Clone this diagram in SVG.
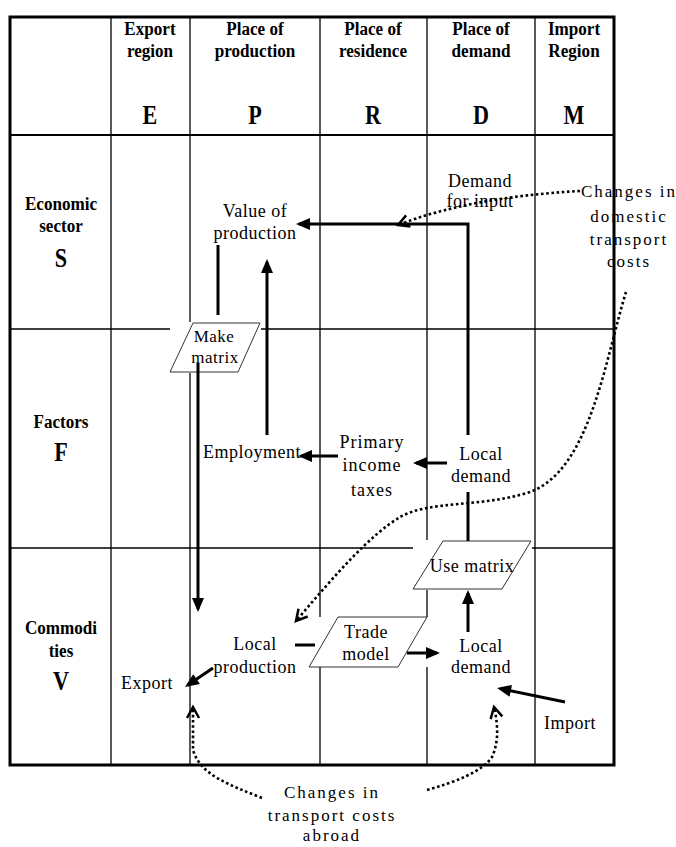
<svg xmlns="http://www.w3.org/2000/svg" width="676" height="847" viewBox="0 0 676 847">
<defs>
<style>
.grid{stroke:#000;stroke-width:1.3;fill:none}
.border{stroke:#000;stroke-width:3;fill:none}
.hd{font-family:"Liberation Serif","Times New Roman",serif;font-weight:bold;font-size:19px;text-anchor:middle;fill:#000}
.big{font-family:"Liberation Serif","Times New Roman",serif;font-weight:bold;font-size:27px;text-anchor:middle;fill:#000}
.tx{font-family:"Liberation Serif","Times New Roman",serif;font-size:18px;text-anchor:middle;fill:#000;letter-spacing:0.5px}
.sp{font-family:"Liberation Serif","Times New Roman",serif;font-size:17px;text-anchor:middle;fill:#000;letter-spacing:2px}
.para{fill:#fff;stroke:#333;stroke-width:1}
.mask{fill:#fff;stroke:none}
.arr{stroke:#000;stroke-width:3;fill:none}
.dot{stroke:#000;stroke-width:2.6;fill:none;stroke-dasharray:2.6 2.6}
</style>
<marker id="ah" markerUnits="userSpaceOnUse" markerWidth="16" markerHeight="14" refX="11" refY="6" orient="auto" overflow="visible">
<path d="M0,0 L14,6 L0,12 z" fill="#000"/>
</marker>
<marker id="oh" markerUnits="userSpaceOnUse" markerWidth="16" markerHeight="16" refX="11" refY="6" orient="auto" overflow="visible">
<path d="M0,0 L11,6 L0,12" fill="none" stroke="#000" stroke-width="2.5"/>
</marker>
</defs>

<g id="table">
<line class="grid" x1="111" y1="17" x2="111" y2="765"/>
<line class="grid" x1="190" y1="17" x2="190" y2="765"/>
<line class="grid" x1="320" y1="17" x2="320" y2="765"/>
<line class="grid" x1="427" y1="17" x2="427" y2="765"/>
<line class="grid" x1="535" y1="17" x2="535" y2="765"/>
<line x1="10" y1="135" x2="614" y2="135" stroke="#000" stroke-width="2"/>
<line class="grid" x1="10" y1="329" x2="614" y2="329"/>
<line class="grid" x1="10" y1="548" x2="614" y2="548"/>
<rect class="border" x="10" y="17" width="604" height="748"/>
</g>

<g id="header">
<text class="hd" transform="translate(150,35) scale(0.9,1)">Export</text><text class="hd" transform="translate(150,57) scale(0.9,1)">region</text>
<text class="hd" transform="translate(255,35) scale(0.9,1)">Place of</text><text class="hd" transform="translate(255,57) scale(0.9,1)">production</text>
<text class="hd" transform="translate(373,35) scale(0.9,1)">Place of</text><text class="hd" transform="translate(373,57) scale(0.9,1)">residence</text>
<text class="hd" transform="translate(481,35) scale(0.9,1)">Place of</text><text class="hd" transform="translate(481,57) scale(0.9,1)">demand</text>
<text class="hd" transform="translate(574,35) scale(0.9,1)">Import</text><text class="hd" transform="translate(574,57) scale(0.9,1)">Region</text>
<text class="big" transform="translate(150,124) scale(0.82,1)">E</text>
<text class="big" transform="translate(255,124) scale(0.82,1)">P</text>
<text class="big" transform="translate(373,124) scale(0.82,1)">R</text>
<text class="big" transform="translate(481,124) scale(0.82,1)">D</text>
<text class="big" transform="translate(574,124) scale(0.82,1)">M</text>
</g>

<g id="rowlabels">
<text class="hd" transform="translate(61,210) scale(0.9,1)">Economic</text><text class="hd" transform="translate(61,232) scale(0.9,1)">sector</text><text class="big" transform="translate(61,267) scale(0.82,1)">S</text>
<text class="hd" transform="translate(61,428) scale(0.9,1)">Factors</text><text class="big" transform="translate(61,461) scale(0.82,1)">F</text>
<text class="hd" transform="translate(61,634) scale(0.9,1)">Commodi</text><text class="hd" transform="translate(61,657) scale(0.9,1)">ties</text><text class="big" transform="translate(61,690) scale(0.82,1)">V</text>
</g>

<g id="make-matrix">
<rect class="mask" x="170" y="322" width="91" height="51"/>
<polygon class="para" points="193,323 260,323 238,372 170,372"/>
<text class="tx" x="214" y="342" style="font-size:17px">Make</text>
<text class="tx" x="215" y="363" style="font-size:17px">matrix</text>
</g>

<g id="use-matrix">
<rect class="mask" x="413" y="540" width="119" height="50"/>
<polygon class="para" points="443,541 531,541 502,589 413,589"/>
<text class="tx" x="472" y="572">Use matrix</text>
</g>

<g id="trade-model">
<rect class="mask" x="309" y="617" width="119" height="50"/>
<polygon class="para" points="338,617 427,617 398,667 309,667"/>
<text class="tx" x="366" y="638">Trade</text>
<text class="tx" x="366" y="660">model</text>
</g>

<g id="value-of-production">
<text class="tx" x="255" y="217">Value of</text><text class="tx" x="255" y="239">production</text>
</g>
<g id="demand-for-input">
<text class="tx" x="480" y="187">Demand</text><text class="tx" x="480" y="207">for input</text>
</g>
<g id="employment">
<text class="tx" x="203" y="458" style="text-anchor:start">Employment</text>
</g>
<g id="primary-income">
<text class="tx" x="372" y="448" style="letter-spacing:1px">Primary</text>
<text class="tx" x="372" y="471" style="letter-spacing:1px">income</text>
<text class="tx" x="372" y="496" style="letter-spacing:1px">taxes</text>
</g>
<g id="local-demand-f">
<text class="tx" x="481" y="460">Local</text><text class="tx" x="481" y="482">demand</text>
</g>
<g id="local-production">
<text class="tx" x="255" y="650">Local</text><text class="tx" x="255" y="673">production</text>
</g>
<g id="export">
<text class="tx" x="147" y="689">Export</text>
</g>
<g id="local-demand-v">
<text class="tx" x="481" y="652">Local</text><text class="tx" x="481" y="673">demand</text>
</g>
<g id="import">
<text class="tx" x="570" y="729">Import</text>
</g>
<g id="domestic-costs">
<text class="sp" x="629" y="197">Changes in</text>
<text class="sp" x="629" y="222">domestic</text>
<text class="sp" x="629" y="245">transport</text>
<text class="sp" x="629" y="267">costs</text>
</g>
<g id="abroad-costs">
<text class="sp" x="332" y="798">Changes in</text>
<text class="sp" x="332" y="821">transport costs</text>
<text class="sp" x="332" y="841">abroad</text>
</g>

<g id="connectors">
<path class="arr" d="M218,245 V315"/>
<path class="arr" d="M267,435 V262" marker-end="url(#ah)"/>
<path class="arr" d="M468,435 V224 H299" marker-end="url(#ah)"/>
<path class="arr" d="M447,463 H416" marker-end="url(#ah)"/>
<path class="arr" d="M338,456 H301" marker-end="url(#ah)"/>
<path class="arr" d="M198,363 V609" marker-end="url(#ah)"/>
<path class="arr" d="M213,668 L187.5,685.3" marker-end="url(#ah)"/>
<path class="arr" d="M295,645 H315"/>
<path class="arr" d="M407,653 H437" marker-end="url(#ah)"/>
<path class="arr" d="M468,632 V593" marker-end="url(#ah)"/>
<path class="arr" d="M468,492 V541"/>
<path class="arr" d="M565,702 L500,688.6" marker-end="url(#ah)"/>
<path class="dot" d="M580,191 Q470,197 398,225" marker-end="url(#oh)"/>
<path class="dot" d="M626,292 C605,360 590,470 530,492 C480,508 430,500 400,517 C370,535 335,575 296,621" marker-end="url(#oh)"/>
<path class="dot" d="M262,798 C230,785 200,775 193,750 L193,707" marker-end="url(#oh)"/>
<path class="dot" d="M427,790 C455,782 482,772 492,757 C500,740 497,720 494,707" marker-end="url(#oh)"/>
</g>
</svg>
